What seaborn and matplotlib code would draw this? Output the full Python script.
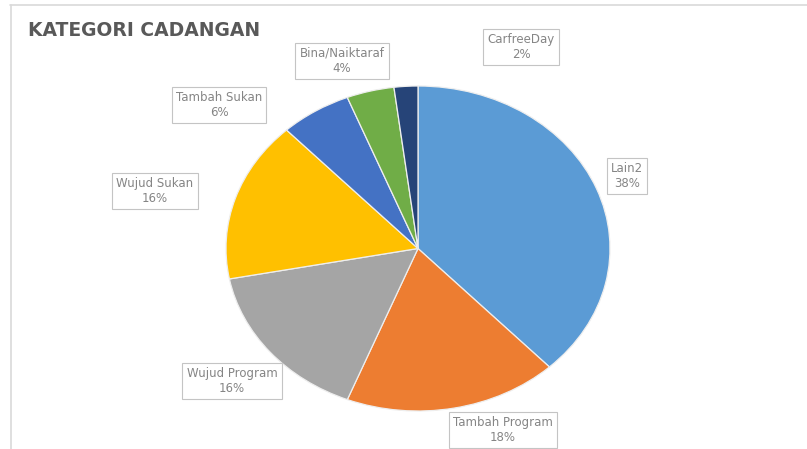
import matplotlib
matplotlib.use("Agg")
import matplotlib.pyplot as plt
import seaborn as sns
from matplotlib.lines import Line2D

# Proposal categories and their share (percent)
categories = ["Lain2", "Tambah Program", "Wujud Program", "Wujud Sukan",
              "Tambah Sukan", "Bina/Naiktaraf", "CarfreeDay"]
shares = [38, 18, 16, 16, 6, 4, 2]
colors = ["#5B9BD5", "#ED7D31", "#A5A5A5", "#FFC000",
          "#4472C4", "#70AD47", "#264478"]

# Label box centres in pixels (x from left, y from top)
label_pos = [(627, 176), (503, 430), (232, 381), (155, 191),
             (219, 105), (342, 61), (521, 47)]

sns.set_theme(style="white")
plt.rcParams["font.family"] = ["DejaVu Sans"]

W, H = 807, 449
fig = plt.figure(figsize=(W / 100, H / 100), dpi=100)
fig.patch.set_facecolor("white")

# Pie drawn as a slightly flattened ellipse
left, right, top, bottom = 226, 610, 86, 411
ax = fig.add_axes([left / W, 1 - bottom / H, (right - left) / W, (bottom - top) / H])
palette = sns.color_palette(colors)
ax.pie(shares, colors=palette, startangle=90, counterclock=False,
       wedgeprops=dict(edgecolor="#eeeeee", linewidth=0.9))
ax.set_aspect("auto")
ax.set_xlim(-1, 1)
ax.set_ylim(-1, 1)
ax.axis("off")

# Data labels in thin bordered boxes
for name, val, (px, py) in zip(categories, shares, label_pos):
    fig.text(px / W, 1 - py / H, f"{name}\n{val}%", ha="center", va="center",
             fontsize=8.5, color="#858585", linespacing=1.2,
             bbox=dict(boxstyle="square,pad=0.35", facecolor="white",
                       edgecolor="#c4c4c4", linewidth=0.8))

# Title
fig.text(28 / W, 1 - 31 / H, "KATEGORI CADANGAN", ha="left", va="center",
         fontsize=13.5, fontweight="bold", color="#595959")

# Chart area border lines (top and left)
fig.add_artist(Line2D([10 / W, 1], [1 - 4.5 / H, 1 - 4.5 / H],
                      transform=fig.transFigure, color="#d9d9d9", linewidth=1.2))
fig.add_artist(Line2D([10.5 / W, 10.5 / W], [0, 1 - 4.5 / H],
                      transform=fig.transFigure, color="#d9d9d9", linewidth=1.2))

fig.savefig("out.png", dpi=100)
